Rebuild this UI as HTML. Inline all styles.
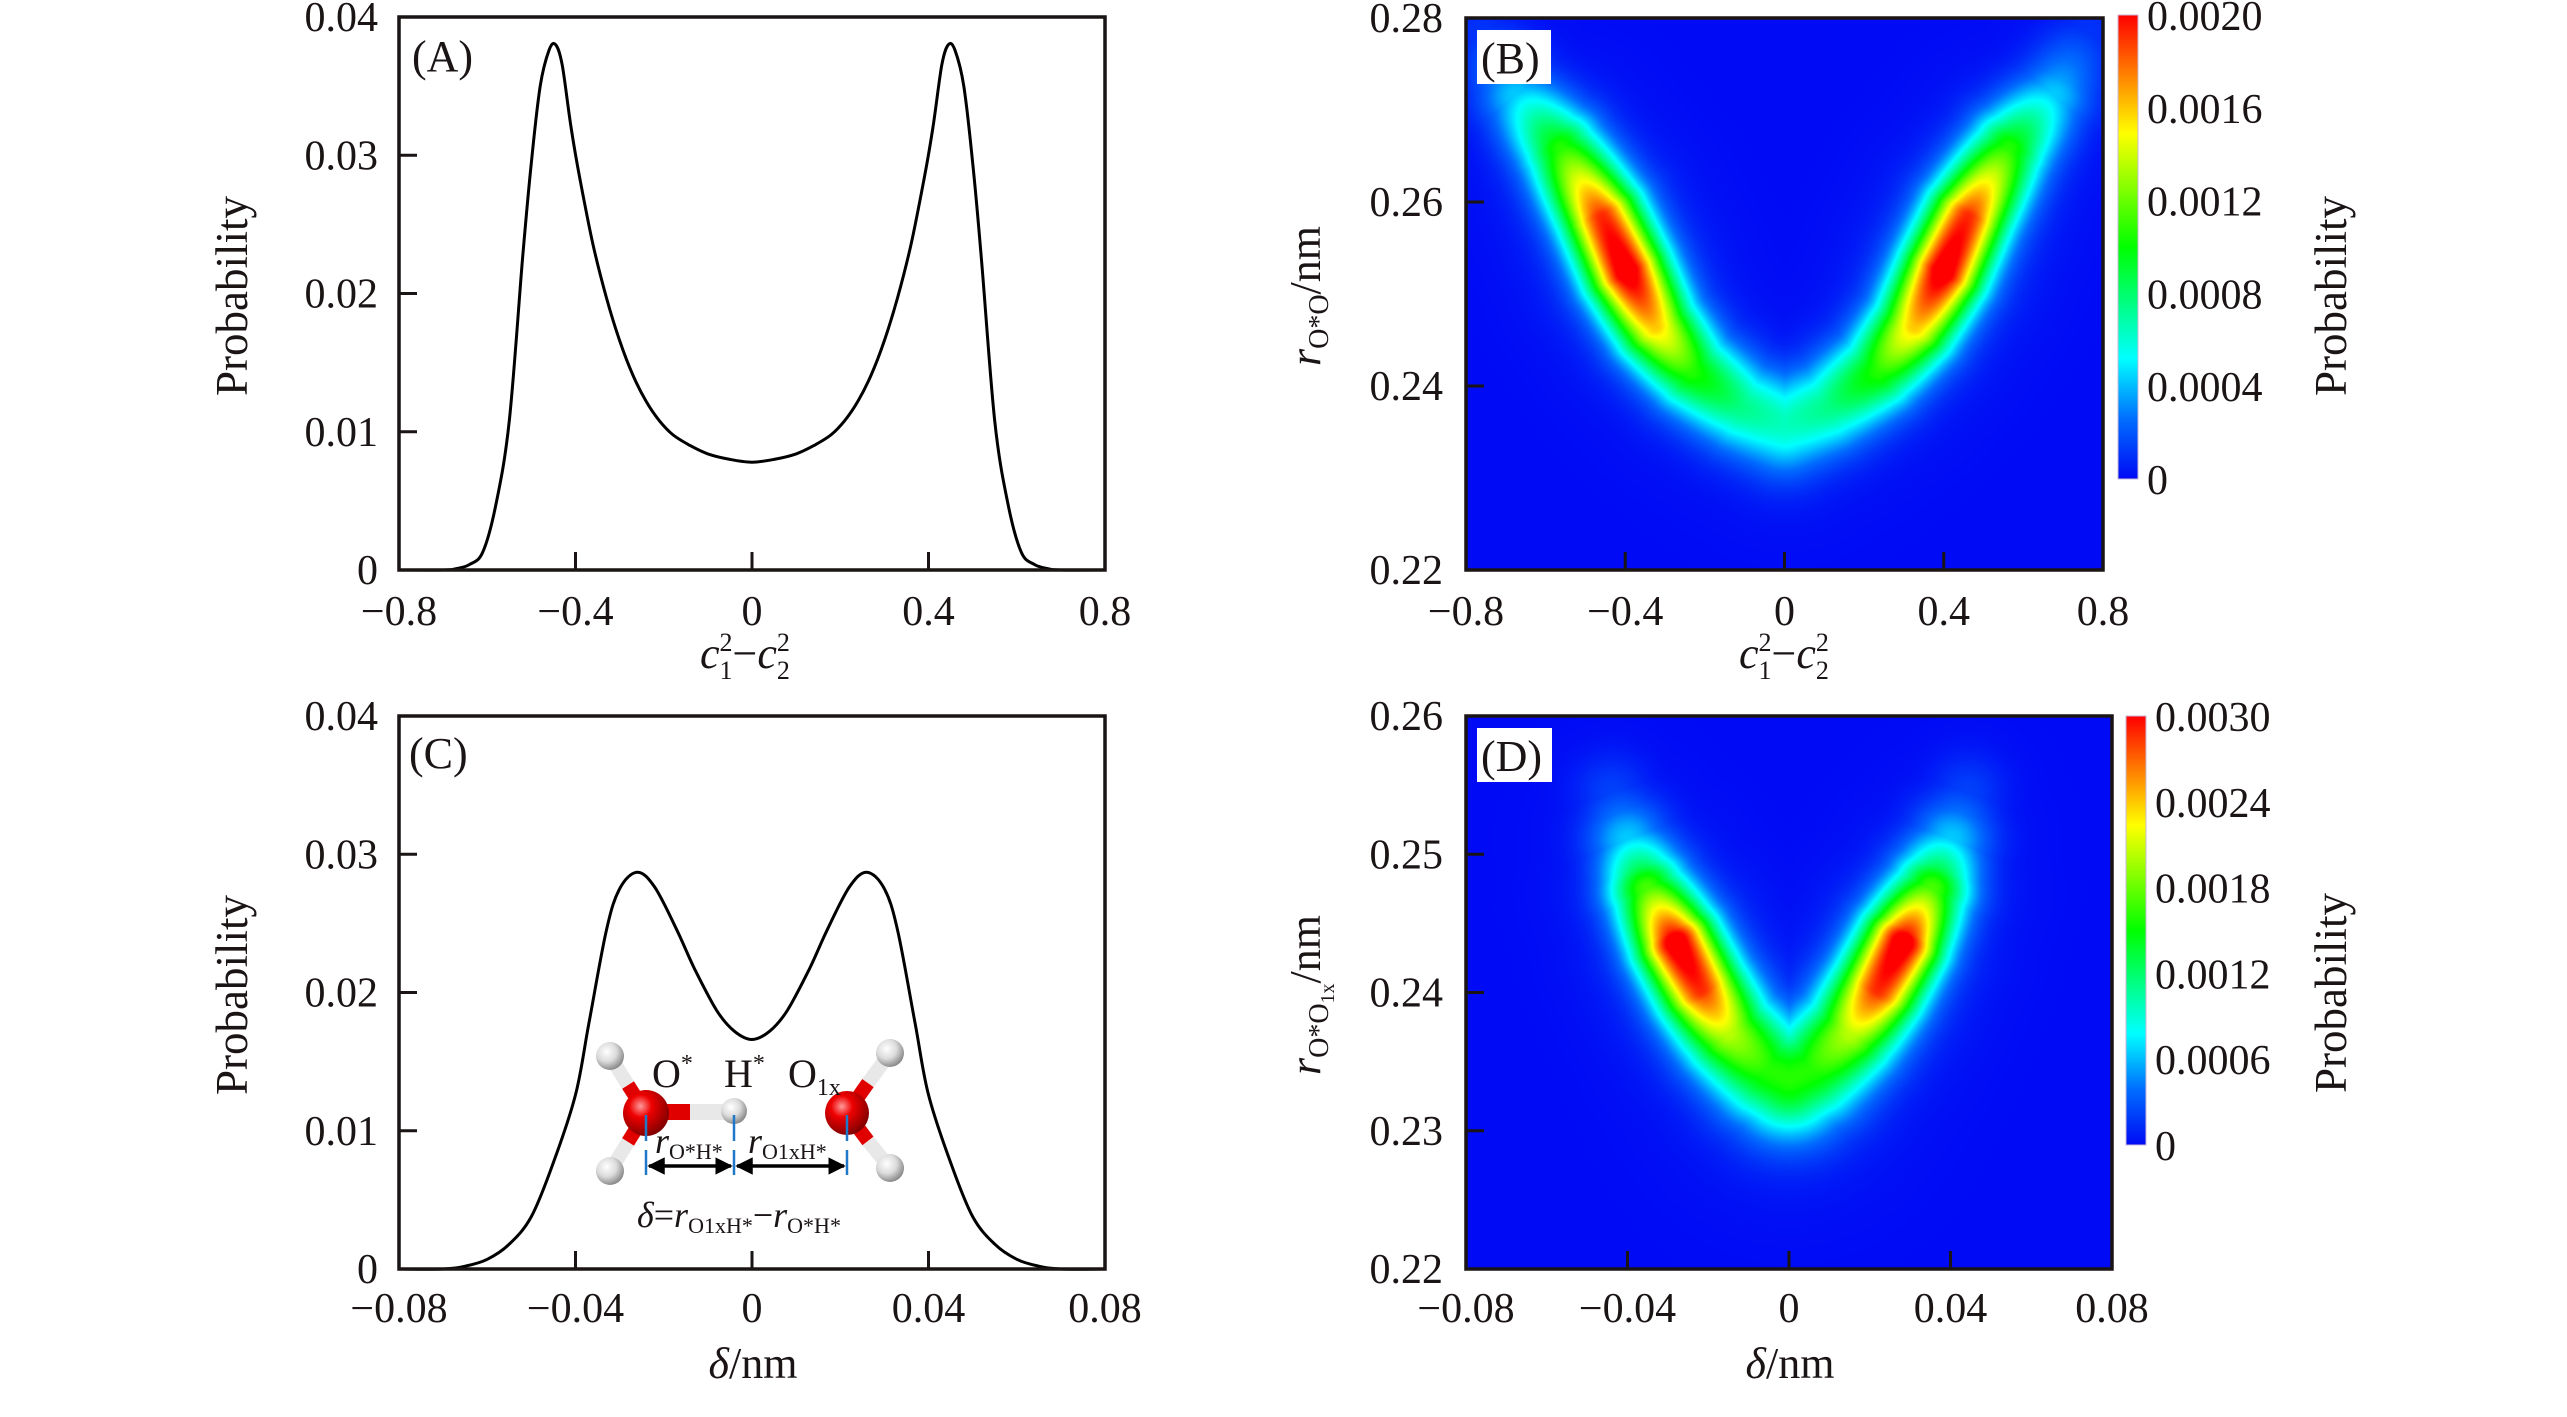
<!DOCTYPE html>
<html><head><meta charset="utf-8"><style>
html,body{margin:0;padding:0;background:#fff;}
#wrap{position:relative;width:2567px;height:1417px;overflow:hidden;background:#fff;}
canvas{position:absolute;}
svg{position:absolute;left:0;top:0;}
text{font-family:"Liberation Serif",serif;fill:#1a1414;}
</style></head><body>
<div id="wrap">
<canvas id="cvB"></canvas>
<canvas id="cvD"></canvas>
<svg id="svg" width="2567" height="1417" xmlns="http://www.w3.org/2000/svg">
<defs>
<radialGradient id="gO" cx="0.38" cy="0.35" r="0.7"><stop offset="0" stop-color="#ff9a9a"/><stop offset="0.35" stop-color="#ee0000"/><stop offset="1" stop-color="#7a0000"/></radialGradient>
<radialGradient id="gH" cx="0.38" cy="0.35" r="0.7"><stop offset="0" stop-color="#ffffff"/><stop offset="0.5" stop-color="#dcdcdc"/><stop offset="1" stop-color="#808080"/></radialGradient>
<linearGradient id="cbB" x1="0" y1="1" x2="0" y2="0"></linearGradient>
<linearGradient id="cbD" x1="0" y1="1" x2="0" y2="0"></linearGradient>
<marker id="arr" viewBox="0 0 10 10" refX="9" refY="5" markerWidth="5" markerHeight="5" orient="auto-start-reverse"><path d="M0,0 L10,5 L0,10 z" fill="#000"/></marker>
</defs>
</svg>
</div>
<script>
// ---------- Data ----------
const aX = [-0.8,-0.7,-0.67,-0.64,-0.61,-0.58,-0.55,-0.52,-0.5,-0.48,-0.46,-0.445,-0.43,-0.41,-0.39,-0.36,-0.33,-0.3,-0.27,-0.24,-0.21,-0.18,-0.14,-0.1,-0.05,0,0.05,0.1,0.14,0.18,0.21,0.24,0.27,0.3,0.33,0.36,0.39,0.41,0.43,0.445,0.46,0.48,0.5,0.52,0.55,0.58,0.61,0.64,0.67,0.7,0.8];
const aY = [0,0,0.0001,0.0004,0.0013,0.0048,0.0108,0.0225,0.0295,0.035,0.0376,0.038,0.0365,0.032,0.0283,0.0235,0.0197,0.0166,0.0141,0.0122,0.0108,0.0098,0.0090,0.0084,0.0080,0.0078,0.0080,0.0084,0.0090,0.0098,0.0108,0.0122,0.0141,0.0166,0.0197,0.0235,0.0283,0.032,0.0365,0.038,0.0376,0.035,0.0295,0.0225,0.0108,0.0048,0.0013,0.0004,0.0001,0,0];
const cX = [-0.08,-0.07,-0.065,-0.06,-0.055,-0.05,-0.045,-0.04,-0.037,-0.033,-0.03,-0.026,-0.022,-0.017,-0.013,-0.008,-0.004,0,0.004,0.008,0.013,0.017,0.022,0.026,0.03,0.033,0.037,0.04,0.045,0.05,0.055,0.06,0.065,0.07,0.08];
const cY = [0,0,0.0002,0.0007,0.0018,0.0038,0.0077,0.0126,0.0177,0.0245,0.0275,0.0287,0.0276,0.0245,0.0217,0.0187,0.0172,0.0166,0.0172,0.0187,0.0217,0.0245,0.0276,0.0287,0.0275,0.0245,0.0177,0.0126,0.0077,0.0038,0.0018,0.0007,0.0002,0,0];
// B heatmap ridge (x, r, peak probability, spread in nm)
const bRidgeX = [-0.76,-0.675,-0.562,-0.459,-0.397,-0.326,-0.234,-0.110,0.0,0.110,0.234,0.326,0.397,0.459,0.562,0.675,0.76];
const bRidgeR = [0.2785,0.2716,0.2658,0.2584,0.2525,0.2466,0.2417,0.2378,0.2359,0.2378,0.2417,0.2466,0.2525,0.2584,0.2658,0.2716,0.2785];
const bRidgeP = [0.0001,0.0004,0.0010,0.0018,0.0020,0.0015,0.0010,0.0007,0.0006,0.0007,0.0010,0.0015,0.0020,0.0018,0.0010,0.0004,0.0001];
const bRidgeS = [0.0028,0.0029,0.0030,0.0030,0.0030,0.0030,0.0031,0.0033,0.0036,0.0033,0.0031,0.0030,0.0030,0.0030,0.0030,0.0029,0.0028];
// D heatmap ridge
const dRidgeX = [-0.044,-0.0401,-0.0352,-0.028,-0.022,-0.0149,-0.0057,0.0,0.0057,0.0149,0.022,0.028,0.0352,0.0401,0.044];
const dRidgeR = [0.2545,0.2511,0.2475,0.2436,0.2403,0.2371,0.2345,0.2338,0.2345,0.2371,0.2403,0.2436,0.2475,0.2511,0.2545];
const dRidgeP = [0.0002,0.0006,0.0016,0.0030,0.0027,0.0019,0.0015,0.0015,0.0015,0.0019,0.0027,0.0030,0.0016,0.0006,0.0002];
const dRidgeS = [0.0019,0.0020,0.0020,0.0020,0.0021,0.0023,0.0026,0.0028,0.0026,0.0023,0.0021,0.0020,0.0020,0.0020,0.0019];
const ticksA_x = [-0.8,-0.4,0,0.4,0.8];
const ticksA_y = [0,0.01,0.02,0.03,0.04];
const ticksC_x = [-0.08,-0.04,0,0.04,0.08];
const ticksB_y = [0.22,0.24,0.26,0.28];
const ticksD_y = [0.22,0.23,0.24,0.25,0.26];
const cbB_ticks = [0,0.0004,0.0008,0.0012,0.0016,0.0020];
const cbD_ticks = [0,0.0006,0.0012,0.0018,0.0024,0.0030];
const lblA_x = ["\u22120.8","\u22120.4","0","0.4","0.8"];
const lblA_y = ["0","0.01","0.02","0.03","0.04"];
const lblC_x = ["\u22120.08","\u22120.04","0","0.04","0.08"];
const lblB_y = ["0.22","0.24","0.26","0.28"];
const lblD_y = ["0.22","0.23","0.24","0.25","0.26"];
const lblCbB = ["0","0.0004","0.0008","0.0012","0.0016","0.0020"];
const lblCbD = ["0","0.0006","0.0012","0.0018","0.0024","0.0030"];
const cmapPos = [0,0.13,0.26,0.5,0.745,0.83,1];
const cmapCol = [[0,10,245],[0,110,255],[0,255,255],[0,255,0],[255,255,0],[255,170,0],[255,0,0]];

// ---------- helpers ----------
const NS="http://www.w3.org/2000/svg";
const svg=document.getElementById('svg');
function lin(d0,d1,p0,p1){return v=>p0+(v-d0)/(d1-d0)*(p1-p0);}
function el(tag,attrs,parent,txt){const e=document.createElementNS(NS,tag);for(const k in attrs)e.setAttribute(k,attrs[k]);if(txt!==undefined)e.textContent=txt;(parent||svg).appendChild(e);return e;}
function cmap(t){t=Math.max(0,Math.min(1,t));for(let i=1;i<cmapPos.length;i++){if(t<=cmapPos[i]){const f=(t-cmapPos[i-1])/(cmapPos[i]-cmapPos[i-1]);const a=cmapCol[i-1],b=cmapCol[i];return [a[0]+(b[0]-a[0])*f,a[1]+(b[1]-a[1])*f,a[2]+(b[2]-a[2])*f];}}return cmapCol[cmapCol.length-1];}
function smoothPath(pts){let d=`M${pts[0][0].toFixed(1)},${pts[0][1].toFixed(1)}`;for(let i=0;i<pts.length-1;i++){const p0=pts[Math.max(0,i-1)],p1=pts[i],p2=pts[i+1],p3=pts[Math.min(pts.length-1,i+2)];const c1=[p1[0]+(p2[0]-p0[0])/6,p1[1]+(p2[1]-p0[1])/6];const c2=[p2[0]-(p3[0]-p1[0])/6,p2[1]-(p3[1]-p1[1])/6];d+=` C${c1[0].toFixed(1)},${c1[1].toFixed(1)} ${c2[0].toFixed(1)},${c2[1].toFixed(1)} ${p2[0].toFixed(1)},${p2[1].toFixed(1)}`;}return d;}

function axesFrame(g,L,R,T,B,xs,ys,xt,yt,xl,yl,yLabelX,xLabelY,name){
  const grp=el('g',{},g);
  
  
  el('rect',{x:L,y:T,width:R-L,height:B-T,fill:'none',stroke:'#1a1414','stroke-width':3.5},grp);
  xt.forEach((v,i)=>{const x=xs(v);
    if(i>0&&i<xt.length-1) el('line',{x1:x,y1:B,x2:x,y2:B-18,stroke:'#1a1414','stroke-width':3},grp);
    const t=el('text',{x:x,y:xLabelY,'text-anchor':'middle','font-size':42},grp,xl[i]);
    });
  yt.forEach((v,i)=>{const y=ys(v);
    if(i>0&&i<yt.length-1) el('line',{x1:L,y1:y,x2:L+18,y2:y,stroke:'#1a1414','stroke-width':3},grp);
    const t=el('text',{x:yLabelX,y:y+14,'text-anchor':'end','font-size':42},grp,yl[i]);
    });
}

// ---------- Panel A ----------
const gA=el('g',{});
const axA=lin(-0.8,0.8,399,1105), ayA=lin(0,0.04,570,17);
const pA=el('path',{d:smoothPath(aX.map((x,i)=>[axA(x),ayA(aY[i])])),fill:'none',stroke:'#000','stroke-width':3},gA);

axesFrame(gA,399,1105,17,570,axA,ayA,ticksA_x,ticksA_y,lblA_x,lblA_y,378,625,'panel-a');

// ---------- Panel C ----------
const gC=el('g',{});
const axC=lin(-0.08,0.08,399,1105), ayC=lin(0,0.04,1269,716);
const pC=el('path',{d:smoothPath(cX.map((x,i)=>[axC(x),ayC(cY[i])])),fill:'none',stroke:'#000','stroke-width':3},gC);

axesFrame(gC,399,1105,716,1269,axC,ayC,ticksC_x,ticksA_y,lblC_x,lblA_y,378,1322,'panel-c');

// ---------- Heatmaps ----------
function heat(cvId,L,R,T,B,xs,ys,RX,RR,RP,RS,pmax,sScale){
  const cv=document.getElementById(cvId);const w=Math.round(R-L),h=Math.round(B-T);
  cv.width=w;cv.height=h;cv.style.left=L+'px';cv.style.top=T+'px';
  const ctx=cv.getContext('2d');const img=ctx.createImageData(w,h);
  const px=RX.map(v=>xs(v)-L),py=RR.map(v=>ys(v)-T),sg=RS.map(v=>v*sScale);
  for(let j=0;j<h;j++)for(let i=0;i<w;i++){
    let best=0;
    for(let k=0;k<px.length-1;k++){
      const dx=px[k+1]-px[k],dy=py[k+1]-py[k];const l2=dx*dx+dy*dy;
      let t=((i-px[k])*dx+(j-py[k])*dy)/l2;t=Math.max(0,Math.min(1,t));
      const qx=px[k]+t*dx-i,qy=py[k]+t*dy-j;const d2=qx*qx+qy*qy;
      const I=RP[k]+(RP[k+1]-RP[k])*t,s=sg[k]+(sg[k+1]-sg[k])*t;
      const v=I*Math.exp(-d2/(2*s*s))+0.07*I*Math.exp(-d2/(2*4*s*s));
      if(v>best)best=v;}
    const c=cmap(best/pmax);const o=(j*w+i)*4;
    img.data[o]=c[0];img.data[o+1]=c[1];img.data[o+2]=c[2];img.data[o+3]=255;}
  ctx.putImageData(img,0,0);
}
const axB=lin(-0.8,0.8,1466,2103), ayB=lin(0.22,0.28,570,18);
heat('cvB',1466,2103,18,570,axB,ayB,bRidgeX,bRidgeR,bRidgeP,bRidgeS,0.0020,552/0.06);
const axD=lin(-0.08,0.08,1466,2112), ayD=lin(0.22,0.26,1269,716);
heat('cvD',1466,2112,716,1269,axD,ayD,dRidgeX,dRidgeR,dRidgeP,dRidgeS,0.0030,553/0.04);

const gB=el('g',{});
axesFrame(gB,1466,2103,18,570,axB,ayB,ticksA_x,ticksB_y,lblA_x,lblB_y,1443,625,'panel-b');
const gD=el('g',{});
axesFrame(gD,1466,2112,716,1269,axD,ayD,ticksC_x,ticksD_y,lblC_x,lblD_y,1443,1322,'panel-d');

// colorbars
function colorbar(gradId,g,x,T,B,ticks,lbls,vmax,lx,name){
  const gr=document.getElementById(gradId);
  cmapPos.forEach((p,i)=>{el('stop',{offset:p,'stop-color':`rgb(${cmapCol[i].join(',')})`},gr);});
  const r=el('rect',{x:x,y:T,width:20,height:B-T,fill:`url(#${gradId})`,stroke:'#c8b8d8','stroke-width':1},g);
  
  const cs=lin(0,vmax,B,T);
  ticks.forEach((v,i)=>{const t=el('text',{x:lx,y:cs(v)+15,'font-size':42},g,lbls[i]);
    });
}
colorbar('cbB',gB,2118,15,479,cbB_ticks,lblCbB,0.0020,2147,'colorbar-b');
colorbar('cbD',gD,2126,716,1145,cbD_ticks,lblCbD,0.0030,2155,'colorbar-d');
</script>

<svg width="2567" height="1417" style="position:absolute;left:0;top:0" xmlns="http://www.w3.org/2000/svg">
<text x="412" y="71" font-size="44">(A)</text>
<text x="409" y="768" font-size="44">(C)</text>
<rect x="1477" y="30" width="74" height="54" fill="#fff"/>
<text x="1481" y="73" font-size="44">(B)</text>
<rect x="1477" y="728" width="75" height="54" fill="#fff"/>
<text x="1481" y="771" font-size="44">(D)</text>

<text transform="translate(247,296) rotate(-90)" text-anchor="middle" font-size="45">Probability</text>
<text transform="translate(247,995) rotate(-90)" text-anchor="middle" font-size="45">Probability</text>
<text transform="translate(2346,296) rotate(-90)" text-anchor="middle" font-size="45">Probability</text>
<text transform="translate(2346,993) rotate(-90)" text-anchor="middle" font-size="45">Probability</text>

<text transform="translate(1320,296) rotate(-90)" text-anchor="middle" font-size="44"><tspan font-style="italic">r</tspan><tspan font-size="28" dy="8">O*O</tspan><tspan dy="-8">/nm</tspan></text>
<text transform="translate(1320,995) rotate(-90)" text-anchor="middle" font-size="44"><tspan font-style="italic">r</tspan><tspan font-size="28" dy="8">O*O</tspan><tspan font-size="20" dy="6">1x</tspan><tspan dy="-14">/nm</tspan></text>

<text x="700" y="668" font-size="44"><tspan font-style="italic">c</tspan><tspan font-size="26" dy="-17">2</tspan><tspan font-size="26" dx="-13" dy="28">1</tspan><tspan dy="-11">−</tspan><tspan font-style="italic">c</tspan><tspan font-size="26" dy="-17">2</tspan><tspan font-size="26" dx="-13" dy="28">2</tspan></text>
<text x="1739" y="668" font-size="44"><tspan font-style="italic">c</tspan><tspan font-size="26" dy="-17">2</tspan><tspan font-size="26" dx="-13" dy="28">1</tspan><tspan dy="-11">−</tspan><tspan font-style="italic">c</tspan><tspan font-size="26" dy="-17">2</tspan><tspan font-size="26" dx="-13" dy="28">2</tspan></text>
<text x="753" y="1378" text-anchor="middle" font-size="44"><tspan font-style="italic">δ</tspan>/nm</text>
<text x="1790" y="1378" text-anchor="middle" font-size="44"><tspan font-style="italic">δ</tspan>/nm</text>

<g>
  <line x1="646" y1="1113" x2="628" y2="1085" stroke="#e00000" stroke-width="14"/>
  <line x1="628" y1="1085" x2="610" y2="1056" stroke="#e8e8e8" stroke-width="14"/>
  <line x1="646" y1="1113" x2="628" y2="1142" stroke="#e00000" stroke-width="14"/>
  <line x1="628" y1="1142" x2="610" y2="1171" stroke="#e8e8e8" stroke-width="14"/>
  <line x1="646" y1="1112" x2="690" y2="1112" stroke="#e00000" stroke-width="16"/>
  <line x1="690" y1="1112" x2="734" y2="1112" stroke="#e8e8e8" stroke-width="16"/>
  <line x1="847" y1="1113" x2="868" y2="1083" stroke="#e00000" stroke-width="14"/>
  <line x1="868" y1="1083" x2="890" y2="1053" stroke="#e8e8e8" stroke-width="14"/>
  <line x1="847" y1="1113" x2="868" y2="1141" stroke="#e00000" stroke-width="14"/>
  <line x1="868" y1="1141" x2="890" y2="1168" stroke="#e8e8e8" stroke-width="14"/>
  <circle cx="610" cy="1056" r="14" fill="url(#gH)"/>
  <circle cx="610" cy="1171" r="14" fill="url(#gH)"/>
  <circle cx="734" cy="1111" r="13" fill="url(#gH)"/>
  <circle cx="890" cy="1053" r="14" fill="url(#gH)"/>
  <circle cx="890" cy="1168" r="14" fill="url(#gH)"/>
  <circle cx="646" cy="1113" r="23" fill="url(#gO)"/>
  <circle cx="847" cy="1113" r="22" fill="url(#gO)"/>
  <g stroke="#1f78c8" stroke-width="2.5">
    <line x1="646" y1="1115" x2="646" y2="1141"/><line x1="646" y1="1150" x2="646" y2="1175"/>
    <line x1="734" y1="1115" x2="734" y2="1141"/><line x1="734" y1="1150" x2="734" y2="1175"/>
    <line x1="847" y1="1115" x2="847" y2="1141"/><line x1="847" y1="1150" x2="847" y2="1175"/>
  </g>
  <line x1="649" y1="1166" x2="731" y2="1166" stroke="#000" stroke-width="3.5" marker-start="url(#arr)" marker-end="url(#arr)"/>
  <line x1="737" y1="1166" x2="844" y2="1166" stroke="#000" stroke-width="3.5" marker-start="url(#arr)" marker-end="url(#arr)"/>
  <text x="652" y="1087" font-size="40">O<tspan font-size="24" dy="-16">*</tspan></text>
  <text x="724" y="1087" font-size="40">H<tspan font-size="24" dy="-16">*</tspan></text>
  <text x="788" y="1087" font-size="40">O<tspan font-size="24" dy="8">1x</tspan></text>
  <text x="655" y="1153" font-size="36"><tspan font-style="italic">r</tspan><tspan font-size="22" dy="6">O*H*</tspan></text>
  <text x="748" y="1153" font-size="36"><tspan font-style="italic">r</tspan><tspan font-size="22" dy="6">O1xH*</tspan></text>
  <text x="637" y="1227" font-size="36"><tspan font-style="italic">δ</tspan>=<tspan font-style="italic">r</tspan><tspan font-size="22" dy="6">O1xH*</tspan><tspan dy="-6">−</tspan><tspan font-style="italic">r</tspan><tspan font-size="22" dy="6">O*H*</tspan></text>
</g>
</svg>
</body></html>
